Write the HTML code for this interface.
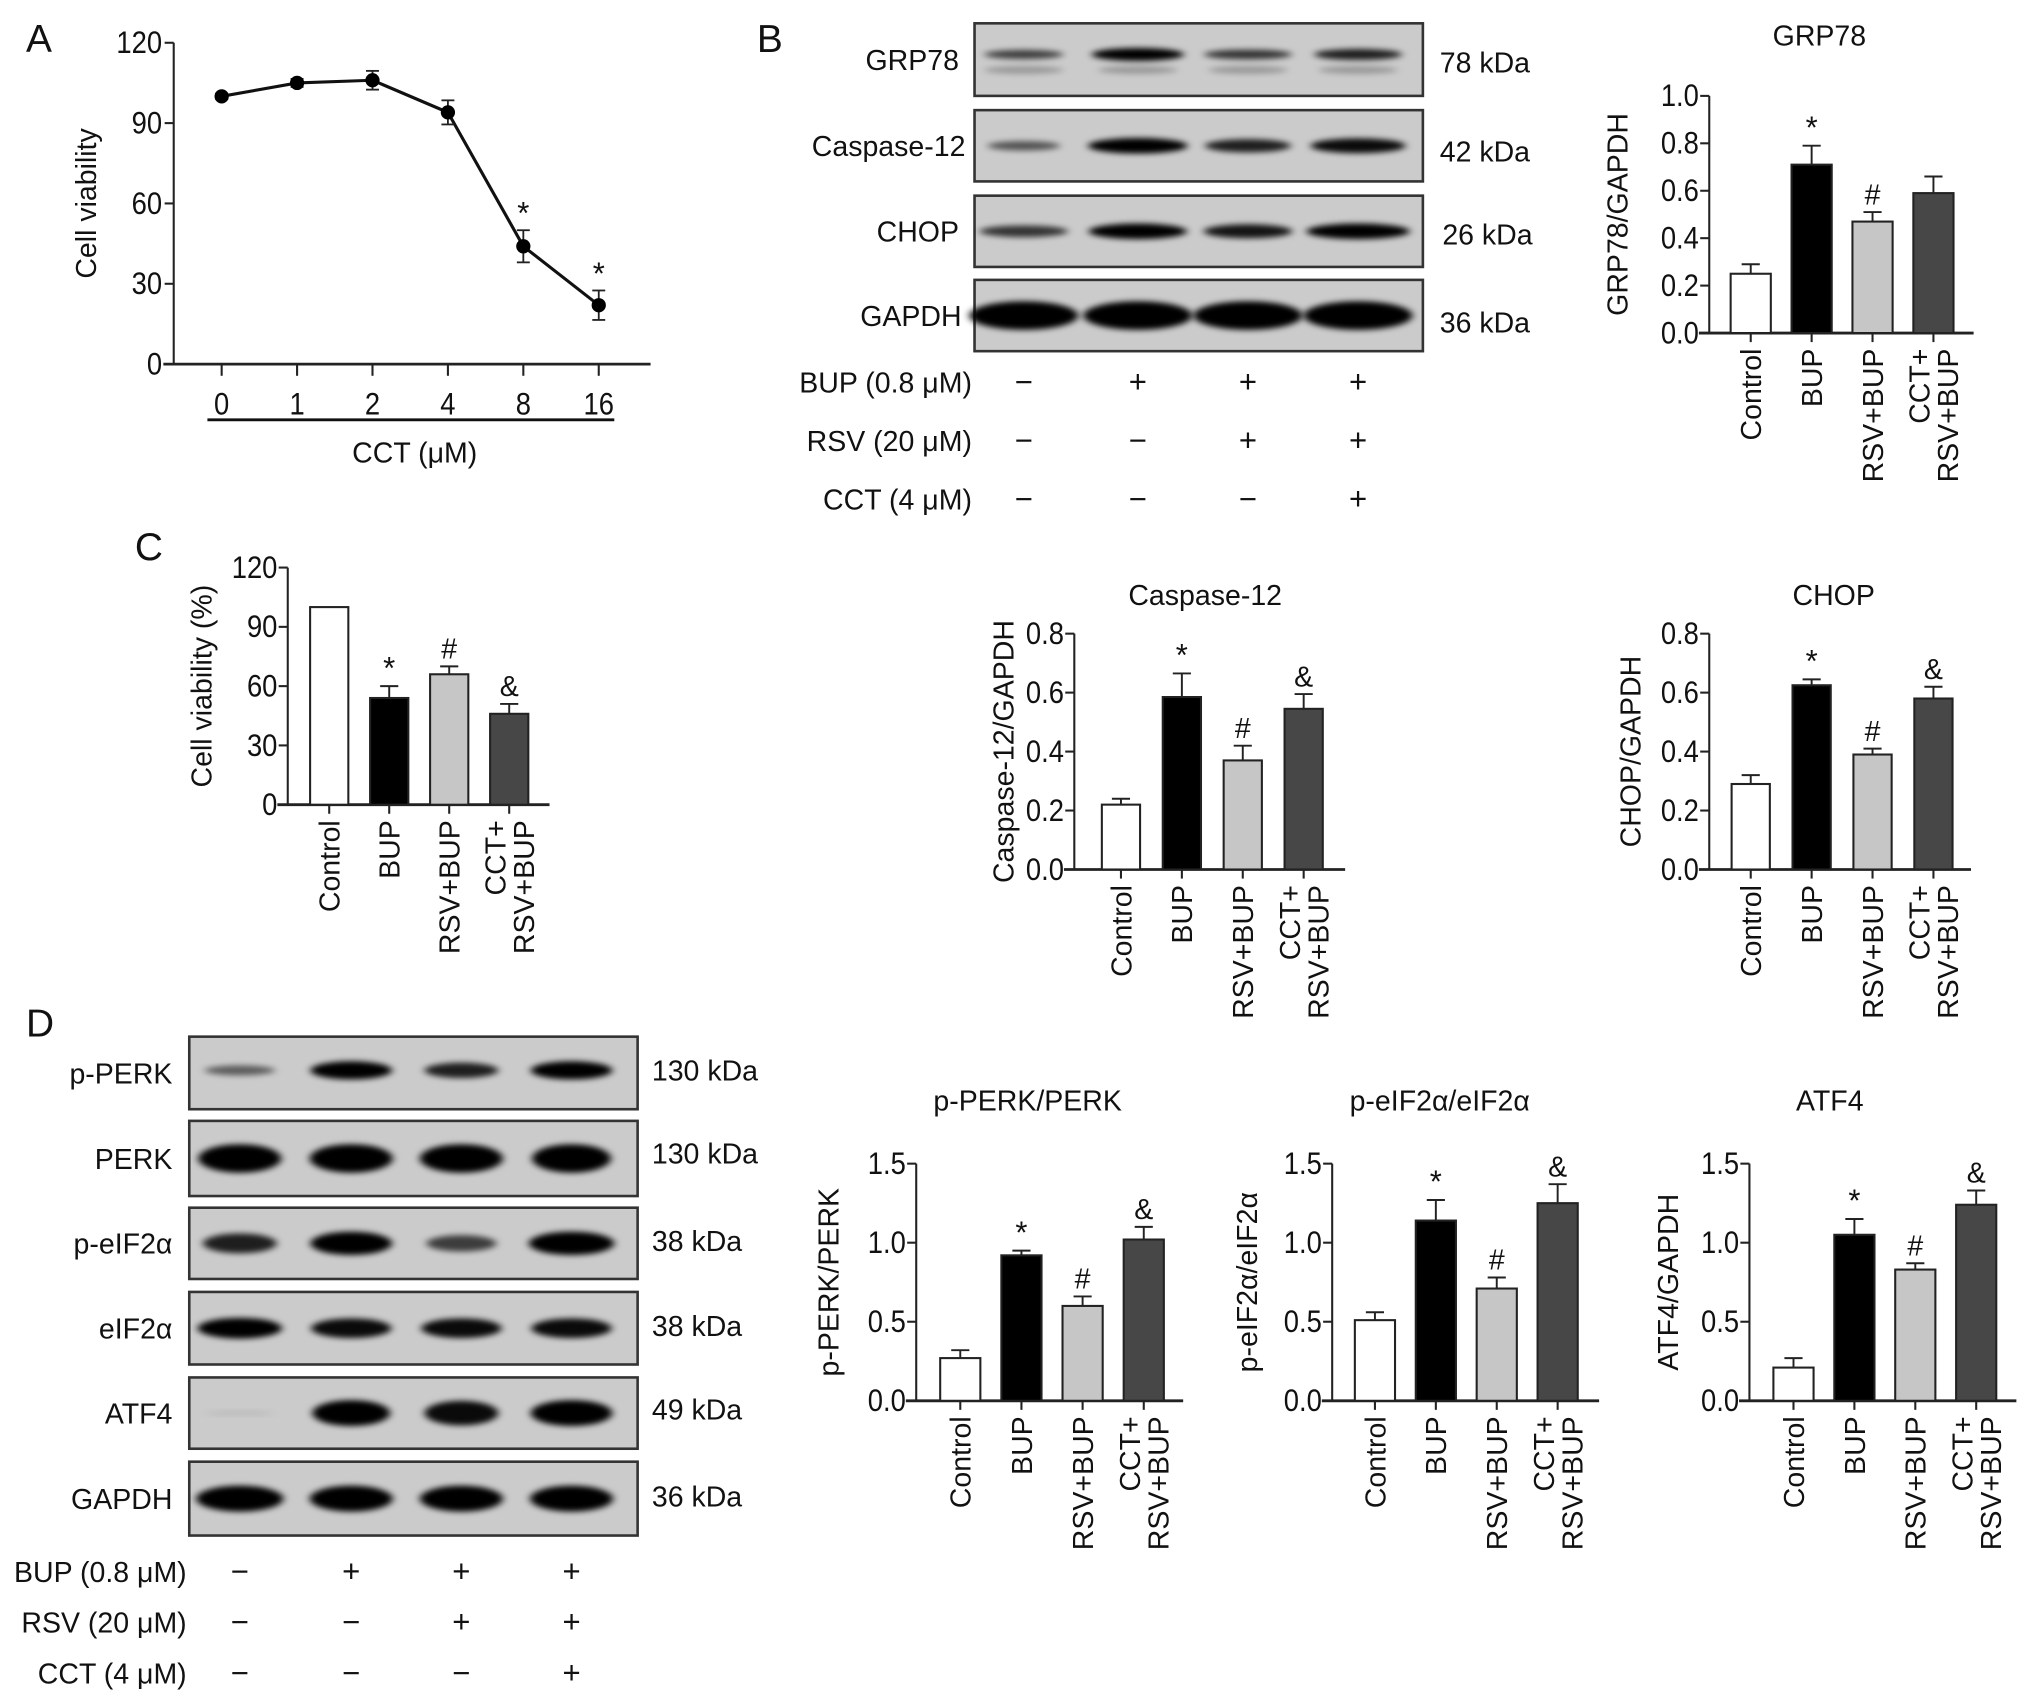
<!DOCTYPE html>
<html><head><meta charset="utf-8"><style>
html,body{margin:0;padding:0;background:#fff}
svg{display:block}
text{font-family:"Liberation Sans",Arial,sans-serif;fill:#111}
</style></head><body>
<svg id="fig" xmlns="http://www.w3.org/2000/svg" width="2032" height="1704" viewBox="0 0 1568 1315">
<defs>
<filter id="blur" x="-30%" y="-100%" width="160%" height="300%"><feGaussianBlur stdDeviation="3 2.2"/></filter>
</defs>
<g id="root"></g>
</svg>
<script>
// ---------- DATA ----------
const aCats = ["0","1","2","4","8","16"];
const aValues = [100,105,106,94,44,22];
const aErrors = [1,1.5,3.5,4.5,6,5.5];
const aMarks = ["","","","","*","*"];

const groups = ["Control","BUP","RSV+BUP","CCT+|RSV+BUP"];

const grpValues = [0.25,0.71,0.47,0.59];
const grpErrors = [0.04,0.08,0.04,0.07];
const grpMarks = ["","*","#",""];

const cvValues = [100,54,66,46];
const cvErrors = [0,6,4,5];
const cvMarks = ["","*","#","&"];

const casValues = [0.22,0.585,0.37,0.545];
const casErrors = [0.02,0.08,0.05,0.05];
const casMarks = ["","*","#","&"];

const chopValues = [0.29,0.625,0.39,0.58];
const chopErrors = [0.03,0.02,0.02,0.04];
const chopMarks = ["","*","#","&"];

const perkValues = [0.27,0.92,0.6,1.02];
const perkErrors = [0.05,0.03,0.06,0.08];
const perkMarks = ["","*","#","&"];

const eifValues = [0.51,1.14,0.71,1.25];
const eifErrors = [0.05,0.13,0.07,0.12];
const eifMarks = ["","*","#","&"];

const atfValues = [0.21,1.05,0.83,1.24];
const atfErrors = [0.06,0.1,0.04,0.09];
const atfMarks = ["","*","#","&"];

const bupSigns = ["\u2212","+","+","+"];
const rsvSigns = ["\u2212","\u2212","+","+"];
const cctSigns = ["\u2212","\u2212","\u2212","+"];

// ---------- HELPERS ----------
const NS="http://www.w3.org/2000/svg";
const root=document.getElementById('root');
const FS=22, TFS=24;
function el(tag,attrs,parent){const e=document.createElementNS(NS,tag);for(const k in attrs)e.setAttribute(k,attrs[k]);(parent||root).appendChild(e);return e;}
function txt(s,x,y,size,anchor,parent,extra){const t=el('text',Object.assign({x:x,y:y,'font-size':size,'text-anchor':anchor||'start'},extra||{}),parent);t.textContent=s;return t;}
function narrow(x){return `translate(${x},0) scale(0.88,1) translate(${-x},0)`;}
const fills=["#ffffff","#000000","#c6c6c6","#474747"];

function barChart(o){
  const g=el('g',{});
  
  
  const ys=v=>o.yBot-(v-o.yMin)/(o.yMax-o.yMin)*(o.yBot-o.yTop);
  const ya=el('line',{x1:o.ax,y1:o.yTop,x2:o.ax,y2:o.yBot,stroke:'#222','stroke-width':1.6},g);
  
  
  const xa=el('line',{x1:o.ax-8,y1:o.yBot,x2:o.xEnd,y2:o.yBot,stroke:'#222','stroke-width':2.2},g);
  
  
  for(let v=o.yMin;v<=o.yMax+1e-9;v+=o.yStep){
    const y=ys(v);
    el('line',{x1:o.ax-7,y1:y,x2:o.ax,y2:y,stroke:'#222','stroke-width':1.6},g);
    const t=txt(o.fmt(v),o.ax-8,y+8,TFS,'end',g,{'transform':narrow(o.ax-8)});
    
    
  }
  if(o.title){const t=txt(o.title,o.titleX,o.titleY,FS,'middle',g);}
  const yl=txt(o.ylabel,0,0,FS,'middle',g,{transform:`translate(${o.ylX},${(o.yTop+o.yBot)/2}) rotate(-90)`});
  
  
  o.values.forEach((v,i)=>{
    const cx=o.c0+i*o.sp, w=o.bw;
    const top=ys(v);
    const eTop=ys(v+o.errors[i]);
    if(o.errors[i]>0){
      el('line',{x1:cx,y1:top,x2:cx,y2:eTop,stroke:'#222','stroke-width':1.5},g);
      el('line',{x1:cx-7,y1:eTop,x2:cx+7,y2:eTop,stroke:'#222','stroke-width':1.5},g);
    }
    const r=el('rect',{x:cx-w/2,y:top,width:w,height:o.yBot-top,fill:fills[i],stroke:'#222','stroke-width':1.6},g);
    
    
    el('line',{x1:cx,y1:o.yBot,x2:cx,y2:o.yBot+7,stroke:'#222','stroke-width':1.6},g);
    if(o.marks[i]){
      const m=txt(o.marks[i],cx,eTop-6,o.marks[i]=="*"?24:22,'middle',g);
      
      
    }
    const parts=groups[i].split('|');
    parts.forEach((p,k)=>{
      const lx=parts.length>1?(k==0?cx-3:cx+19):cx+8;
      const t=txt(p,0,0,FS,'end',g,{transform:`translate(${lx},${o.yBot+12}) rotate(-90)`});
      
      
    });
  });
}

function panelLetter(s,x,y){const t=txt(s,x,y,30,'start');}

function blot(o){
  const g=el('g',{});
  
  
  el('rect',{x:o.x0,y:o.y0,width:o.x1-o.x0,height:o.y1-o.y0,fill:o.bg||'#cbcbcb',stroke:'#333','stroke-width':2},g);
  const cy=(o.y0+o.y1)/2;
  o.bands.forEach((b,i)=>{
    const e=el('ellipse',{cx:o.lanes[i],cy:cy+(o.dy||0),rx:o.rx*b[1],ry:o.ry*b[0],fill:'#000','fill-opacity':Math.min(1,b[0]),filter:'url(#blur)'},g);
    
    
    if(o.second){el('ellipse',{cx:o.lanes[i],cy:cy+o.second,rx:o.rx*0.9,ry:3,fill:'#000','fill-opacity':0.25,filter:'url(#blur)'},g);}
  });
  const l=txt(o.label,o.labelX,cy+8,FS,'end',g);
  
  
  const k=txt(o.kda,o.kdaX,cy+8+(o.kdy||0),FS,'start',g);
  
  
}

function treatments(labels,signs,ys,labelX,lanes){
  labels.forEach((lab,r)=>{
    const t=txt(lab,labelX,ys[r]+8,FS,'end');
    
    
    signs[r].forEach((s,i)=>{
      const m=txt(s,lanes[i],ys[r]+8,24,'middle');
      
      
    });
  });
}

// ---------- PANEL A ----------
panelLetter("A",20,40);
(function(){
  const ax=134,yTop=33,yBot=281,c0=171,sp=58.2;
  const ys=v=>yBot-v/120*(yBot-yTop);
  const g=el('g',{});
  
  
  el('line',{x1:ax,y1:yTop,x2:ax,y2:yBot,stroke:'#222','stroke-width':1.6},g);
  el('line',{x1:ax-8,y1:yBot,x2:502,y2:yBot,stroke:'#222','stroke-width':2.2},g);
  for(let v=0;v<=120;v+=30){const y=ys(v);el('line',{x1:ax-7,y1:y,x2:ax,y2:y,stroke:'#222','stroke-width':1.6},g);
    const t=txt(String(v),ax-9,y+8,TFS,'end',g,{transform:narrow(ax-9)});
    
    }
  const yl=txt("Cell viability",0,0,FS,'middle',g,{transform:`translate(74,${(yTop+yBot)/2}) rotate(-90)`});
  
  
  let pts=[];
  aCats.forEach((c,i)=>{const x=c0+i*sp;el('line',{x1:x,y1:yBot,x2:x,y2:yBot+9,stroke:'#222','stroke-width':1.6},g);
    const t=txt(c,x,yBot+39,TFS,'middle',g,{transform:narrow(x)});
    
    
    pts.push([x,ys(aValues[i])]);});
  const ln=el('polyline',{points:pts.map(p=>p.join(',')).join(' '),fill:'none',stroke:'#111','stroke-width':2.4},g);
  
  
  aValues.forEach((v,i)=>{const x=c0+i*sp;const e=aErrors[i];
    [v+e,v-e].forEach(a=>{el('line',{x1:x-5,y1:ys(a),x2:x+5,y2:ys(a),stroke:'#222','stroke-width':1.4},g);});
    el('line',{x1:x,y1:ys(v+e),x2:x,y2:ys(v-e),stroke:'#222','stroke-width':1.4},g);
    const p=el('circle',{cx:x,cy:ys(v),r:5.5,fill:'#000'},g);
    
    
    if(aMarks[i]){const m=txt(aMarks[i],x,ys(v+e)-5,24,'middle',g);}
  });
  el('line',{x1:160,y1:324,x2:474,y2:324,stroke:'#111','stroke-width':2.2},g);
  const xl=txt("CCT (\u03bcM)",320,357,FS,'middle',g);
  
  
})();

// ---------- PANEL B blots ----------
panelLetter("B",584,40);
const bLanes=[790,878,963,1048];
blot({name:'blot-grp78',x0:752,x1:1098,y0:18,y1:74,lanes:bLanes,rx:34,ry:5,dy:-4,second:8,bands:[[0.7,0.9],[1,1.05],[0.75,1],[0.85,1]],label:'GRP78',labelX:740,kda:'78 kDa',kdaX:1111,kdy:2});
blot({name:'blot-caspase-12',x0:752,x1:1098,y0:85,y1:140,lanes:bLanes,rx:35,ry:6,bands:[[0.6,0.8],[1,1.1],[0.85,0.95],[0.95,1.05]],label:'Caspase-12',labelX:745,kda:'42 kDa',kdaX:1111,kdy:4});
blot({name:'blot-chop',x0:752,x1:1098,y0:151,y1:206,lanes:bLanes,rx:38,ry:6,bands:[[0.75,0.9],[1,1],[0.9,0.9],[1,1.05]],label:'CHOP',labelX:740,kda:'26 kDa',kdaX:1113,kdy:2});
blot({name:'blot-gapdh-b',x0:752,x1:1098,y0:216,y1:271,lanes:bLanes,rx:40,ry:11,bands:[[1,1.05],[1,1.05],[1,1.05],[1,1.05]],label:'GAPDH',labelX:742,kda:'36 kDa',kdaX:1111,kdy:5});
treatments(["BUP (0.8 \u03bcM)","RSV (20 \u03bcM)","CCT (4 \u03bcM)"],[bupSigns,rsvSigns,cctSigns],[295,340,385],750,bLanes);

barChart({name:'grp78-chart',ax:1319,xEnd:1523,yTop:74,yBot:257,yMin:0,yMax:1,yStep:0.2,fmt:v=>v.toFixed(1),c0:1351,sp:47,bw:31,values:grpValues,errors:grpErrors,marks:grpMarks,title:'GRP78',titleX:1404,titleY:35,ylabel:'GRP78/GAPDH',ylX:1256});

// ---------- PANEL C ----------
panelLetter("C",104,432);
barChart({name:'cell-viability-chart',ax:222,xEnd:424,yTop:438,yBot:621,yMin:0,yMax:120,yStep:30,fmt:v=>String(v),c0:254,sp:46.3,bw:29.5,values:cvValues,errors:cvErrors,marks:cvMarks,ylabel:'Cell viability (%)',ylX:163});

barChart({name:'caspase-12-chart',ax:829,xEnd:1038,yTop:489,yBot:671,yMin:0,yMax:0.8,yStep:0.2,fmt:v=>v.toFixed(1),c0:865,sp:47,bw:29.5,values:casValues,errors:casErrors,marks:casMarks,title:'Caspase-12',titleX:930,titleY:467,ylabel:'Caspase-12/GAPDH',ylX:782});
barChart({name:'chop-chart',ax:1319,xEnd:1521,yTop:489,yBot:671,yMin:0,yMax:0.8,yStep:0.2,fmt:v=>v.toFixed(1),c0:1351,sp:47,bw:29.5,values:chopValues,errors:chopErrors,marks:chopMarks,title:'CHOP',titleX:1415,titleY:467,ylabel:'CHOP/GAPDH',ylX:1266});

// ---------- PANEL D ----------
panelLetter("D",20,800);
const dLanes=[185,271,356,441];
blot({name:'blot-p-perk',x0:146,x1:492,y0:800,y1:856,lanes:dLanes,rx:30,ry:7,dy:-2,bands:[[0.55,0.9],[1,1.05],[0.85,0.95],[1,1.05]],label:'p-PERK',labelX:133,kda:'130 kDa',kdaX:503,kdy:-2});
blot({name:'blot-perk',x0:146,x1:492,y0:865,y1:923,lanes:dLanes,rx:32,ry:11,bands:[[1,1],[1,1],[1,1],[1,0.95]],label:'PERK',labelX:133,kda:'130 kDa',kdaX:503,kdy:-4});
blot({name:'blot-p-eif2a',x0:146,x1:492,y0:932,y1:987,lanes:dLanes,rx:30,ry:9,bands:[[0.85,0.95],[1,1.05],[0.7,0.9],[1,1.1]],label:'p-eIF2\u03b1',labelX:133,kda:'38 kDa',kdaX:503,kdy:-2});
blot({name:'blot-eif2a',x0:146,x1:492,y0:997,y1:1053,lanes:dLanes,rx:31,ry:8,bands:[[1,1.05],[0.95,1],[0.95,1],[0.95,1]],label:'eIF2\u03b1',labelX:133,kda:'38 kDa',kdaX:503,kdy:-2});
blot({name:'blot-atf4',x0:146,x1:492,y0:1063,y1:1118,lanes:dLanes,rx:30,ry:10,bands:[[0.12,0.9],[1,1],[0.95,0.95],[1,1.05]],label:'ATF4',labelX:133,kda:'49 kDa',kdaX:503,kdy:-3});
blot({name:'blot-gapdh-d',x0:146,x1:492,y0:1128,y1:1185,lanes:dLanes,rx:32,ry:10,bands:[[1,1.05],[1,1],[1,1],[1,1]],label:'GAPDH',labelX:133,kda:'36 kDa',kdaX:503,kdy:-2});
treatments(["BUP (0.8 \u03bcM)","RSV (20 \u03bcM)","CCT (4 \u03bcM)"],[bupSigns,rsvSigns,cctSigns],[1213,1252,1291],144,dLanes);

barChart({name:'p-perk-chart',ax:707,xEnd:913,yTop:898,yBot:1081,yMin:0,yMax:1.5,yStep:0.5,fmt:v=>v.toFixed(1),c0:741,sp:47.2,bw:31,values:perkValues,errors:perkErrors,marks:perkMarks,title:'p-PERK/PERK',titleX:793,titleY:857,ylabel:'p-PERK/PERK',ylX:647});
barChart({name:'p-eif2a-chart',ax:1028,xEnd:1234,yTop:898,yBot:1081,yMin:0,yMax:1.5,yStep:0.5,fmt:v=>v.toFixed(1),c0:1061,sp:47,bw:31,values:eifValues,errors:eifErrors,marks:eifMarks,title:'p-eIF2\u03b1/eIF2\u03b1',titleX:1111,titleY:857,ylabel:'p-eIF2\u03b1/eIF2\u03b1',ylX:970});
barChart({name:'atf4-chart',ax:1350,xEnd:1556,yTop:898,yBot:1081,yMin:0,yMax:1.5,yStep:0.5,fmt:v=>v.toFixed(1),c0:1384,sp:47,bw:31,values:atfValues,errors:atfErrors,marks:atfMarks,title:'ATF4',titleX:1412,titleY:857,ylabel:'ATF4/GAPDH',ylX:1295});
</script>
</body></html>
